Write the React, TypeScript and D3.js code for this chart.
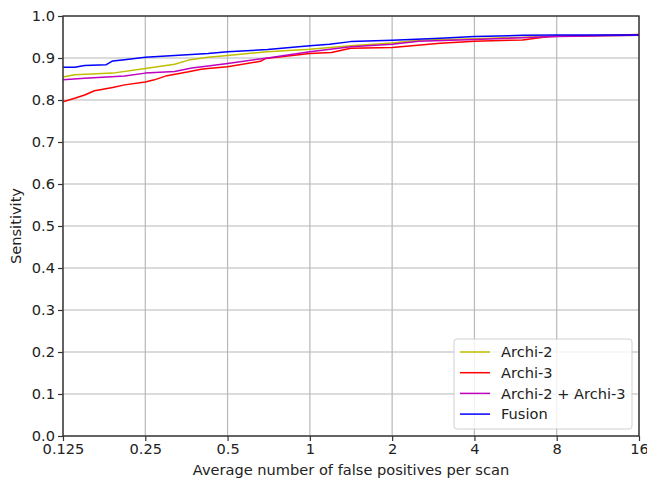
import React, { useEffect, useRef } from 'react';
import * as d3 from 'd3';

// FROC curves
const fusionFp = [0.125, 0.138, 0.15, 0.18, 0.19, 0.21, 0.25, 0.32, 0.424, 0.5, 0.7, 1, 1.18, 1.41, 2, 3, 4, 6, 8, 16];
const fusionSens = [0.878, 0.878, 0.882, 0.884, 0.893, 0.896, 0.902, 0.906, 0.911, 0.915, 0.92, 0.929, 0.933, 0.939, 0.942, 0.947, 0.951, 0.954, 0.955, 0.955];

const archi2Fp = [0.125, 0.138, 0.19, 0.25, 0.32, 0.36, 0.424, 0.5, 0.7, 1, 1.41, 2, 2.5, 4, 8, 16];
const archi2Sens = [0.855, 0.86, 0.864, 0.875, 0.885, 0.895, 0.902, 0.906, 0.915, 0.921, 0.929, 0.936, 0.942, 0.946, 0.952, 0.954];

const comboFp = [0.125, 0.15, 0.21, 0.25, 0.32, 0.37, 0.424, 0.5, 0.7, 1, 1.41, 2, 2.5, 4, 8, 16];
const comboSens = [0.848, 0.852, 0.857, 0.864, 0.868, 0.876, 0.881, 0.887, 0.9, 0.915, 0.927, 0.933, 0.94, 0.944, 0.951, 0.954];

const archi3Fp = [0.125, 0.138, 0.15, 0.163, 0.19, 0.21, 0.25, 0.27, 0.3, 0.36, 0.4, 0.424, 0.5, 0.66, 0.69, 1, 1.2, 1.41, 2, 3, 4, 6, 7.5, 10, 16];
const archi3Sens = [0.796, 0.804, 0.812, 0.822, 0.83, 0.836, 0.843, 0.848, 0.858, 0.867, 0.873, 0.875, 0.879, 0.892, 0.899, 0.911, 0.913, 0.923, 0.925, 0.935, 0.94, 0.943, 0.951, 0.953, 0.956];

const seriesNames = ['Archi-2', 'Archi-3', 'Archi-2 + Archi-3', 'Fusion'];
const seriesColors = ['#bfbf00', '#ff0000', '#bf00bf', '#0000ff'];

const xTicks = [0.125, 0.25, 0.5, 1, 2, 4, 8, 16];
const xTickLabels = ['0.125', '0.25', '0.5', '1', '2', '4', '8', '16'];
const yTicks = [0, 0.1, 0.2, 0.3, 0.4, 0.5, 0.6, 0.7, 0.8, 0.9, 1.0];

const App = () => {
    const ref = useRef<SVGSVGElement>(null);

    useEffect(() => {
        const width = 647;
        const height = 481;
        const margin = { top: 16, right: 8, bottom: 45, left: 63 };
        const innerWidth = width - margin.left - margin.right;
        const innerHeight = height - margin.top - margin.bottom;
        const font = '"DejaVu Sans", sans-serif';
        const fontSize = 14.6;

        const svg = d3.select(ref.current);
        svg.selectAll('*').remove();
        svg.append('rect').attr('width', width).attr('height', height).attr('fill', '#fff');

        const g = svg.append('g').attr('transform', `translate(${margin.left},${margin.top})`);

        const x = d3.scaleLog().base(2).domain([0.125, 16]).range([0, innerWidth]);
        const y = d3.scaleLinear().domain([0, 1]).range([innerHeight, 0]);

        // grid
        g.append('g').selectAll('line').data(xTicks).join('line')
            .attr('x1', (d) => x(d)).attr('x2', (d) => x(d))
            .attr('y1', 0).attr('y2', innerHeight)
            .attr('stroke', '#b8b8b8').attr('stroke-width', 1.2);
        g.append('g').selectAll('line').data(yTicks).join('line')
            .attr('x1', 0).attr('x2', innerWidth)
            .attr('y1', (d) => y(d)).attr('y2', (d) => y(d))
            .attr('stroke', '#b8b8b8').attr('stroke-width', 1.2);

        // curves
        const series = [
            archi2Fp.map((f, i) => [f, archi2Sens[i]]),
            archi3Fp.map((f, i) => [f, archi3Sens[i]]),
            comboFp.map((f, i) => [f, comboSens[i]]),
            fusionFp.map((f, i) => [f, fusionSens[i]]),
        ];
        const line = d3.line<number[]>()
            .x((d) => x(d[0]))
            .y((d) => y(d[1]));
        series.forEach((s, i) => {
            g.append('path')
                .datum(s)
                .attr('d', line)
                .attr('fill', 'none')
                .attr('stroke', seriesColors[i])
                .attr('stroke-width', 1.5)
                .attr('stroke-linejoin', 'round');
        });

        // axes
        const xAxis = d3.axisBottom(x).tickValues(xTicks)
            .tickFormat((d, i) => xTickLabels[i]).tickSize(5).tickPadding(3);
        const yAxis = d3.axisLeft(y).tickValues(yTicks)
            .tickFormat(d3.format('.1f')).tickSize(5).tickPadding(3);

        const xg = g.append('g').attr('transform', `translate(0,${innerHeight})`).call(xAxis);
        const yg = g.append('g').call(yAxis);
        [xg, yg].forEach((a) => {
            a.select('.domain').remove();
            a.selectAll('line').attr('stroke', '#333').attr('stroke-width', 1.2);
            a.selectAll('text').attr('font-family', font).attr('font-size', fontSize).attr('fill', '#222');
        });

        // frame
        g.append('rect')
            .attr('width', innerWidth).attr('height', innerHeight)
            .attr('fill', 'none').attr('stroke', '#333').attr('stroke-width', 1.4);

        // axis titles
        svg.append('text')
            .attr('x', margin.left + innerWidth / 2)
            .attr('y', height - 6)
            .attr('text-anchor', 'middle')
            .attr('font-family', font).attr('font-size', fontSize).attr('fill', '#222')
            .text('Average number of false positives per scan');
        svg.append('text')
            .attr('transform', `translate(21,${margin.top + innerHeight / 2}) rotate(-90)`)
            .attr('text-anchor', 'middle')
            .attr('font-family', font).attr('font-size', fontSize).attr('fill', '#222')
            .text('Sensitivity');

        // legend
        const legend = g.append('g').attr('transform', `translate(${454 - margin.left},${339 - margin.top})`);
        legend.append('rect')
            .attr('width', 178).attr('height', 90).attr('rx', 3)
            .attr('fill', 'rgba(255,255,255,0.8)').attr('stroke', '#d0d0d0');
        seriesNames.forEach((name, i) => {
            const ly = 13 + i * 20.7;
            legend.append('line')
                .attr('x1', 6).attr('x2', 36).attr('y1', ly).attr('y2', ly)
                .attr('stroke', seriesColors[i]).attr('stroke-width', 1.5);
            legend.append('text')
                .attr('x', 47).attr('y', ly).attr('dy', '0.35em')
                .attr('font-family', font).attr('font-size', fontSize).attr('fill', '#222')
                .text(name);
        });
    }, []);

    return (
        <svg ref={ref} width={647} height={481} style={{ position: 'absolute', left: 0, top: 0 }} />
    );
};

export default App;
